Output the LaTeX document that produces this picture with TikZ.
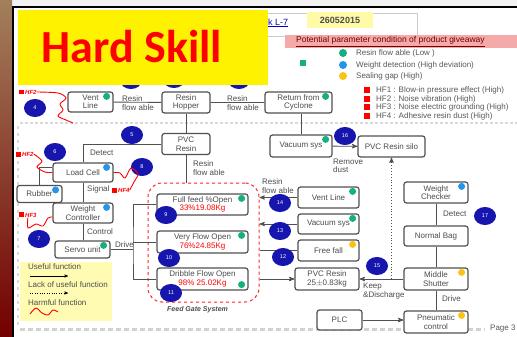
\documentclass[tikz,border=0pt]{standalone}
\usepackage{fontspec}
\setmainfont{Liberation Sans}
\newfontfamily\skillfont{Carlito}
\usetikzlibrary{arrows,calc,shapes}

\definecolor{navyc}{RGB}{22,22,175}
\definecolor{dteal}{RGB}{20,175,130}
\definecolor{dblue}{RGB}{35,150,235}
\definecolor{dyell}{RGB}{250,195,20}
\definecolor{boxline}{RGB}{80,80,80}
\definecolor{pinkbar}{RGB}{245,170,170}

\tikzset{
  box/.style={draw=boxline,line width=1.2pt,rounded corners=2.5pt,fill=white,align=center,text=black!70,inner sep=1pt,font=\fontsize{8}{8.5}\selectfont},
  num/.style={ellipse,fill=navyc,text=white,inner sep=0pt,minimum width=22pt,minimum height=18pt,font=\fontsize{5.5}{6}\selectfont},
  lbl/.style={align=left,anchor=west,inner sep=0pt,text=black!70,font=\fontsize{8}{8.5}\selectfont},
  lgtext/.style={anchor=west,inner sep=0pt,text=black!65,font=\fontsize{8}{8}\selectfont},
  harm/.style={red,line width=0.9pt},
  hf/.style={anchor=west,inner sep=0pt,text=red,font=\fontsize{6}{6}\selectfont\bfseries\itshape},
  flow/.style={boxline,line width=0.9pt}
}

\begin{document}
\begin{tikzpicture}[x=1pt,y=-1pt]
        \useasboundingbox (0,0) rectangle (517,337);
        \clip (0,0) rectangle (517,337);
        \fill[black!5] (0,0) rectangle (517,337);
        \fill[white] (13,7) rectangle (517,337);
        \shade[top color=brown!55!gray,middle color=blue!25!black!85,bottom color=red!45!black] (0,0) rectangle (12,337);
        \draw[line width=1.6pt] (13,337) -- (13,7) -- (517,7);
        \draw[gray!30,line width=1.5pt,dash pattern=on 3pt off 2pt] (20,123) -- (517,123);
        \draw[gray!30,line width=1.5pt,dash pattern=on 3pt off 4pt] (18,126) -- (18,325);
        \draw[gray!35,line width=3pt,dash pattern=on 5pt off 3pt] (20,329) -- (485,329);

        \node[num] (c1) at (131,80) {1};
        \node[num] (c2) at (174,79) {2};
        \node[num] (c3) at (239,80) {3};
        \draw[gray!40,fill=white] (258,13) rectangle (417,36);
        \fill[yellow] (18,10) rectangle (268,85);
        \node[text=red,font=\skillfont\bfseries\fontsize{46}{46}\selectfont] (title) at (132,47) {Hard Skill};
        \node[anchor=west,inner sep=0pt,text=blue!80!black,font=\fontsize{9}{9}\selectfont] (blk) at (268,23) {\underline{k L-7}};
        \node[fill=yellow!35,inner sep=0pt,minimum width=66pt,minimum height=16pt,text=black!70,font=\fontsize{9}{9}\selectfont\bfseries] (date) at (340,20) {26052015};
        \fill[pinkbar] (285,35) rectangle (517,48);
        \node[anchor=west,inner sep=0pt,text=red!45!black,font=\fontsize{8.5}{8.5}\selectfont] (pot) at (296,41.5) {\underline{Potential parameter condition of product giveaway}};

        \fill[dteal] (300,60) rectangle ++(6,6);
        \fill[dteal] (343,53) circle (4);
        \fill[dblue] (343,65) circle (4);
        \fill[dyell] (343,76) circle (4);
        \node[lgtext] (lg1) at (356,53) {Resin flow able (Low )};
        \node[lgtext] (lg2) at (356,65) {Weight detection (High deviation)};
        \node[lgtext] (lg3) at (356,76) {Sealing gap (High)};
        \foreach \y/\t in {90/{HF1 : Blow-in pressure effect (High)},99/{HF2 : Noise vibration (High)},107/{HF3 : Noise electric grounding (High)},116/{HF4 : Adhesive resin dust (High)}}{
            \fill[red] (364,\y-3) rectangle ++(6,6);
            \node[lgtext] at (376,\y) {\t};
        }

        \node[box,minimum width=45pt,minimum height=20pt] (vent) at (90.5,102) {Vent\\Line};
        \node[box,minimum width=48pt,minimum height=21pt] (hopper) at (186,102.5) {Resin\\Hopper};
        \node[box,minimum width=67pt,minimum height=21pt] (cyclone) at (298.5,102.5) {Return from\\Cyclone};
        \node[box,minimum width=48pt,minimum height=21pt] (pvc) at (186,144) {PVC\\Resin};
        \node[box,minimum width=60pt,minimum height=19pt] (loadcell) at (83,172.5) {Load Cell};
        \node[box,minimum width=45pt,minimum height=17pt] (rubber) at (39.5,194) {Rubber};
        \node[box,minimum width=60pt,minimum height=20pt] (wctrl) at (83,213) {Weight\\Controller};
        \node[box,minimum width=55pt,minimum height=17pt] (servo) at (82.5,249.5) {Servo unit};
        \node[draw=red!85,dashed,line width=1pt,rounded corners=14pt,minimum width=111pt,minimum height=119pt] (feed) at (203.5,242.5) {};
        \node[box,minimum width=91pt,minimum height=21pt] (full) at (202.5,204.5) {Full feed \%Open\\\textcolor{red}{33\%19.08Kg}};
        \node[box,minimum width=91pt,minimum height=22pt] (very) at (202.5,242) {Very Flow Open\\\textcolor{red}{76\%24.85Kg}};
        \node[box,minimum width=91pt,minimum height=22pt] (dribble) at (202.5,279) {Dribble Flow Open\\\textcolor{red}{98\% 25.02Kg}};
        \node[box,minimum width=62pt,minimum height=22pt] (vac1) at (301,146) {Vacuum sys};
        \node[box,minimum width=67pt,minimum height=21pt] (silo) at (391.5,146.5) {PVC Resin silo};
        \node[box,minimum width=61pt,minimum height=21pt] (vent2) at (328.5,197.5) {Vent Line};
        \node[box,minimum width=61pt,minimum height=20pt] (vac2) at (328.5,224) {Vacuum sys};
        \node[box,minimum width=61pt,minimum height=21pt] (free) at (328.5,250.5) {Free fall};
        \node[box,minimum width=64pt,minimum height=22pt] (pvc25) at (327,279) {PVC Resin\\25$\pm$0.83kg};
        \node[box,minimum width=64pt,minimum height=21pt] (checker) at (436,192.5) {Weight\\Checker};
        \node[box,minimum width=64pt,minimum height=20pt] (bag) at (436,236) {Normal Bag};
        \node[box,minimum width=64pt,minimum height=22pt] (shutter) at (436,279) {Middle\\Shutter};
        \node[box,minimum width=64pt,minimum height=22pt] (pneu) at (436,322) {Pneumatic\\control};
        \node[box,minimum width=45pt,minimum height=20pt] (plc) at (339.5,320) {PLC};

        \foreach \n in {vent,cyclone,vac1,servo,full,very,vent2,vac2}
            \fill[dteal] ($(\n.north east)+(-7,5)$) circle (3.5);
        \fill[dteal] ($(dribble.south east)+(-7,-6)$) circle (3.5);
        \foreach \n in {loadcell,rubber,wctrl,checker}
            \fill[dblue] ($(\n.north east)+(-7,5)$) circle (3.5);
        \foreach \n in {free,shutter,pneu}
            \fill[dyell] ($(\n.north east)+(-7,5)$) circle (3.5);

        \draw[flow] (vent) -- (hopper) -- (cyclone);
        \draw[flow] (hopper) -- (pvc);
        \draw[flow] (pvc.west) -| (loadcell.north);
        \draw[flow] (loadcell) -- (wctrl);
        \draw[flow] (wctrl.south) -- (wctrl.south |- servo.north);
        \draw[flow] (rubber.north) |- ($(loadcell.west)+(0,-5)$);
        \coordinate (drv) at (133,249.5);
        \draw[flow] (servo.east) -- (drv);
        \draw[flow] (full.west) -| (drv) |- (dribble.west);
        \draw[flow] (very.west) -- (very.west -| drv);
        \draw[flow] (pvc.south) -- (pvc.south |- feed.north);
        \draw[flow] (vac1.north) -- (vac1.north |- cyclone.south);
        \draw[flow,-stealth'] (vac1) -- (silo);
        \draw[flow,-stealth'] (vent2.west) -- (vent2.west -| feed.east);
        \draw[flow,-stealth'] (vac2.west) -- (vac2.west -| feed.east);
        \draw[flow] (free.west) -- (free.west -| feed.east);
        \draw[flow,-stealth'] (pvc25.west -| feed.east) -- (pvc25.west);
        \draw[flow,-stealth'] (shutter) -- (pvc25);
        \draw[flow,dotted,-stealth'] (shutter.west -| silo.south) -- (silo.south);
        \draw[flow] (checker) -- (bag) -- (shutter) -- (pneu);
        \draw[flow,-stealth'] (plc.east) -- (plc.east -| pneu.west);

        \node[lbl] (t1) at (122,103) {Resin\\flow able};
        \node[lbl] (t2) at (227,103) {Resin\\flow able};
        \node[lbl] (t3) at (90,153) {Detect};
        \node[lbl] (t4) at (87,189) {Signal};
        \node[lbl] (t5) at (87,232) {Control};
        \node[lbl] (t6) at (115,245) {Drive};
        \node[lbl] (t7) at (193,168) {Resin\\flow able};
        \node[lbl] (t8) at (333,166) {Remove\\dust};
        \node[lbl] (t9) at (262,186) {Resin\\flow able};
        \node[lbl] (t10) at (363,291) {Keep\\\&Discharge};
        \node[lbl] (t11) at (443,214) {Detect};
        \node[lbl] (t12) at (442,299) {Drive};
        \node[anchor=west,inner sep=0pt,text=black!70,font=\fontsize{7}{7}\selectfont\bfseries\itshape] (fgs) at (167,310) {Feed Gate System};
        \node[lgtext] (page) at (490,329) {Page 3};

        \node[num] (c4) at (35,108) {4};
        \node[num] (c5) at (132,135) {5};
        \node[num] (c6) at (55,152) {6};
        \node[num] (c8) at (142,167) {8};
        \node[num] (c7) at (39,239) {7};
        \node[num] (c9) at (166,215) {9};
        \node[num] (c10) at (169,258) {10};
        \node[num] (c11) at (171,293) {11};
        \node[num] (c12) at (283,257) {12};
        \node[num] (c13) at (280,231) {13};
        \node[num] (c14) at (280,203) {14};
        \node[num] (c15) at (377,266) {15};
        \node[num] (c16) at (345,136) {16};
        \node[num] (c17) at (485,216) {17};

        \node[hf] (hfa) at (19,92) {\textcolor{red}{\rule{5pt}{5pt}}\,HF2};
        \node[hf] (hfb) at (16,154) {\textcolor{red}{\rule{5pt}{5pt}}\,HF2};
        \node[hf] (hfc) at (19,215) {\textcolor{red}{\rule{5pt}{5pt}}\,HF3};
        \node[hf] (hfd) at (112,190) {\textcolor{red}{\rule{5pt}{5pt}}\,HF4};
        \draw[harm] plot[smooth] coordinates {(hfa.east) (58,93) (66,98) (60,104) (63,110) (58,116) (66,120) (73,123)};
        \draw[harm] plot[smooth] coordinates {(hfb.east) (42,161) (37,167) (45,172) (loadcell.west)};
        \draw[harm] plot[smooth] coordinates {(loadcell.east) (120,173) (125,178) (131,168) (138,174) (134,182) (hfd.east)};
        \draw[harm] plot[smooth] coordinates {(hfc.south) (28,228) (36,224) (43,226) (48,218) ($(wctrl.west)+(0,4)$)};

        \fill[yellow!30] (20,262) rectangle (112,321);
        \node[lbl] (luse) at (28,267) {Useful function};
        \draw[-stealth'] (30,276) -- (68,276);
        \node[lbl] (llack) at (28,285) {Lack of useful function};
        \draw[dotted,-stealth'] (30,293) -- (68,293);
        \node[lbl] (lharm) at (28,303) {Harmful function};
        \draw[harm] plot[smooth] coordinates {(30,314) (36,308) (42,313) (48,315) (53,310) (58,312)};
\end{tikzpicture}
\end{document}
